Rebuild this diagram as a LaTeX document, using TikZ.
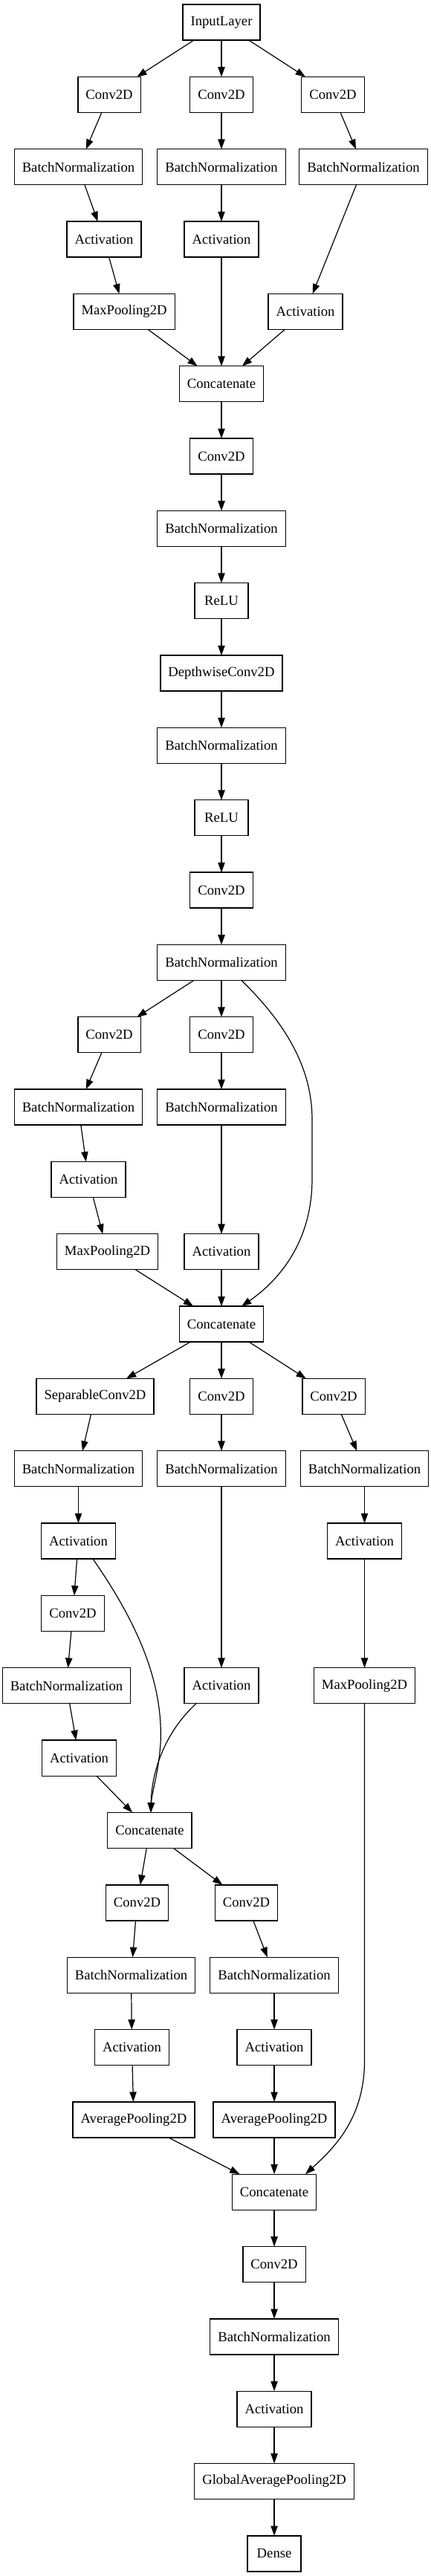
\documentclass[tikz,border=0pt]{standalone}
\usepackage{fontspec}
\setmainfont{Liberation Serif}
\usetikzlibrary{arrows.meta, positioning}

\begin{document}
\begin{tikzpicture}[
    x=1pt, y=1pt,
    node distance=37pt,
    layer/.style={rectangle, draw=black, line width=1pt, outer sep=0pt, minimum height=36pt, minimum width=54pt, inner xsep=7.92pt, font=\fontsize{14pt}{16pt}\selectfont},
    arrow/.style={-{Triangle[length=10pt, width=7pt]}, line width=0.9pt}
]
    \useasboundingbox (0,0) rectangle (434.25,-2600.25);

    % stem block
    \node[layer] (input) at (223.5,-22.6) {InputLayer};
    \node[layer] (conv1a) at (110.3,-95.6) {Conv2D};
    \node[layer, below=of input] (conv1b) {Conv2D};
    \node[layer] (conv1c) at (336,-95.6) {Conv2D};
    \node[layer] (bn1a) at (79.1,-168.6) {BatchNormalization};
    \node[layer, below=of conv1b] (bn1b) {BatchNormalization};
    \node[layer] (bn1c) at (366.8,-168.6) {BatchNormalization};
    \node[layer] (act1a) at (105,-241.6) {Activation};
    \node[layer, below=of bn1b] (act1b) {Activation};
    \node[layer] (pool1) at (125.3,-314.6) {MaxPooling2D};
    \node[layer] (act1c) at (308.3,-314.6) {Activation};
    \node[layer, below=110pt of act1b] (cat1) {Concatenate};

    % middle chain
    \node[layer, below=of cat1] (conv2) {Conv2D};
    \node[layer, below=of conv2] (bn2) {BatchNormalization};
    \node[layer, below=of bn2] (relu1) {ReLU};
    \node[layer, below=of relu1] (dw) {DepthwiseConv2D};
    \node[layer, below=of dw] (bn3) {BatchNormalization};
    \node[layer, below=of bn3] (relu2) {ReLU};
    \node[layer, below=of relu2] (conv3) {Conv2D};
    \node[layer, below=of conv3] (bn4) {BatchNormalization};

    % second block
    \node[layer] (conv4a) at (110.3,-1044.6) {Conv2D};
    \node[layer, below=of bn4] (conv4b) {Conv2D};
    \node[layer] (bn5a) at (79.1,-1117.6) {BatchNormalization};
    \node[layer, below=of conv4b] (bn5b) {BatchNormalization};
    \node[layer] (act5a) at (89.3,-1190.6) {Activation};
    \node[layer] (pool2) at (108.4,-1263.6) {MaxPooling2D};
    \node[layer, below=110pt of bn5b] (act5b) {Activation};
    \node[layer, below=of act5b] (cat2) {Concatenate};

    % third block
    \node[layer] (sep) at (96,-1409.6) {SeparableConv2D};
    \node[layer, below=of cat2] (conv6b) {Conv2D};
    \node[layer] (conv6c) at (336.8,-1409.6) {Conv2D};
    \node[layer] (bn6a) at (79.1,-1482.6) {BatchNormalization};
    \node[layer, below=of conv6b] (bn6b) {BatchNormalization};
    \node[layer] (bn6c) at (367.9,-1482.6) {BatchNormalization};
    \node[layer] (act6a) at (79.1,-1555.6) {Activation};
    \node[layer, below=of bn6c] (act6c) {Activation};
    \node[layer] (conv7) at (73.5,-1628.6) {Conv2D};
    \node[layer] (bn7) at (67.1,-1701.6) {BatchNormalization};
    \node[layer, below=183pt of bn6b] (act6b) {Activation};
    \node[layer] (act7) at (79.9,-1774.6) {Activation};
    \node[layer, below=110pt of act6c] (pool3) {MaxPooling2D};
    \node[layer] (cat3) at (151.1,-1847.6) {Concatenate};

    % fourth block
    \node[layer] (conv8a) at (138.4,-1920.6) {Conv2D};
    \node[layer] (conv8b) at (248.6,-1920.6) {Conv2D};
    \node[layer] (bn8a) at (132.4,-1993.6) {BatchNormalization};
    \node[layer] (bn8b) at (276.8,-1993.6) {BatchNormalization};
    \node[layer] (act8a) at (133.1,-2066.6) {Activation};
    \node[layer, below=of bn8b] (act8b) {Activation};
    \node[layer] (pool8a) at (135,-2139.6) {AveragePooling2D};
    \node[layer, below=of act8b] (pool8b) {AveragePooling2D};
    \node[layer, below=of pool8b] (cat4) {Concatenate};

    % head
    \node[layer, below=of cat4] (conv9) {Conv2D};
    \node[layer, below=of conv9] (bn9) {BatchNormalization};
    \node[layer, below=of bn9] (act9) {Activation};
    \node[layer, below=of act9] (gap) {GlobalAveragePooling2D};
    \node[layer, below=of gap] (dense) {Dense};

    % stem edges
    \draw[arrow] (input) -- (conv1a);
    \draw[arrow] (input) -- (conv1b);
    \draw[arrow] (input) -- (conv1c);
    \draw[arrow] (conv1a) -- (bn1a);
    \draw[arrow] (conv1b) -- (bn1b);
    \draw[arrow] (conv1c) -- (bn1c);
    \draw[arrow] (bn1a) -- (act1a);
    \draw[arrow] (bn1b) -- (act1b);
    \draw[arrow] (bn1c) -- (act1c);
    \draw[arrow] (act1a) -- (pool1);
    \draw[arrow] (pool1) -- (cat1);
    \draw[arrow] (act1b) -- (cat1);
    \draw[arrow] (act1c) -- (cat1);

    % chain edges
    \draw[arrow] (cat1) -- (conv2);
    \draw[arrow] (conv2) -- (bn2);
    \draw[arrow] (bn2) -- (relu1);
    \draw[arrow] (relu1) -- (dw);
    \draw[arrow] (dw) -- (bn3);
    \draw[arrow] (bn3) -- (relu2);
    \draw[arrow] (relu2) -- (conv3);
    \draw[arrow] (conv3) -- (bn4);

    % second block edges
    \draw[arrow] (bn4) -- (conv4a);
    \draw[arrow] (bn4) -- (conv4b);
    \draw[arrow] ([xshift=20.25pt]bn4.south) .. controls (285,-1030) and (315,-1075) .. (315,-1130) -- (315,-1190) .. controls (315,-1250) and (285,-1290) .. ([xshift=20.25pt]cat2.north);
    \draw[arrow] (conv4a) -- (bn5a);
    \draw[arrow] (conv4b) -- (bn5b);
    \draw[arrow] (bn5a) -- (act5a);
    \draw[arrow] (act5a) -- (pool2);
    \draw[arrow] (bn5b) -- (act5b);
    \draw[arrow] (pool2) -- (cat2);
    \draw[arrow] (act5b) -- (cat2);

    % third block edges
    \draw[arrow] (cat2) -- (sep);
    \draw[arrow] (cat2) -- (conv6b);
    \draw[arrow] (cat2) -- (conv6c);
    \draw[arrow] (sep) -- (bn6a);
    \draw[arrow] (conv6b) -- (bn6b);
    \draw[arrow] (conv6c) -- (bn6c);
    \draw[arrow] (bn6a) -- (act6a);
    \draw[arrow] (bn6c) -- (act6c);
    \draw[arrow] (act6a) -- (conv7);
    \draw[arrow] (conv7) -- (bn7);
    \draw[arrow] (bn7) -- (act7);
    \draw[arrow] (bn6b) -- (act6b);
    \draw[arrow] (act6c) -- (pool3);
    \draw[arrow] (act7) -- (cat3);
    \draw[arrow] ([xshift=14.65pt]act6a.south) .. controls (140,-1640) and (165,-1700) .. (162,-1760) .. controls (160,-1790) and (153,-1810) .. ([xshift=1.15pt]cat3.north);
    \draw[arrow] ([xshift=-25.5pt]act6b.south) .. controls (165,-1750) and (153,-1790) .. ([xshift=1.15pt]cat3.north);

    % fourth block edges
    \draw[arrow] (cat3) -- (conv8a);
    \draw[arrow] (cat3) -- (conv8b);
    \draw[arrow] (conv8a) -- (bn8a);
    \draw[arrow] (conv8b) -- (bn8b);
    \draw[arrow] (bn8a) -- (act8a);
    \draw[arrow] (bn8b) -- (act8b);
    \draw[arrow] (act8a) -- (pool8a);
    \draw[arrow] (act8b) -- (pool8b);
    \draw[arrow] (pool8a) -- (cat4);
    \draw[arrow] (pool8b) -- (cat4);
    \draw[arrow] (pool3.south) -- (367.9,-2080) .. controls (367.9,-2140) and (335,-2170) .. ([xshift=31.45pt]cat4.north);

    % head edges
    \draw[arrow] (cat4) -- (conv9);
    \draw[arrow] (conv9) -- (bn9);
    \draw[arrow] (bn9) -- (act9);
    \draw[arrow] (act9) -- (gap);
    \draw[arrow] (gap) -- (dense);
\end{tikzpicture}
\end{document}
